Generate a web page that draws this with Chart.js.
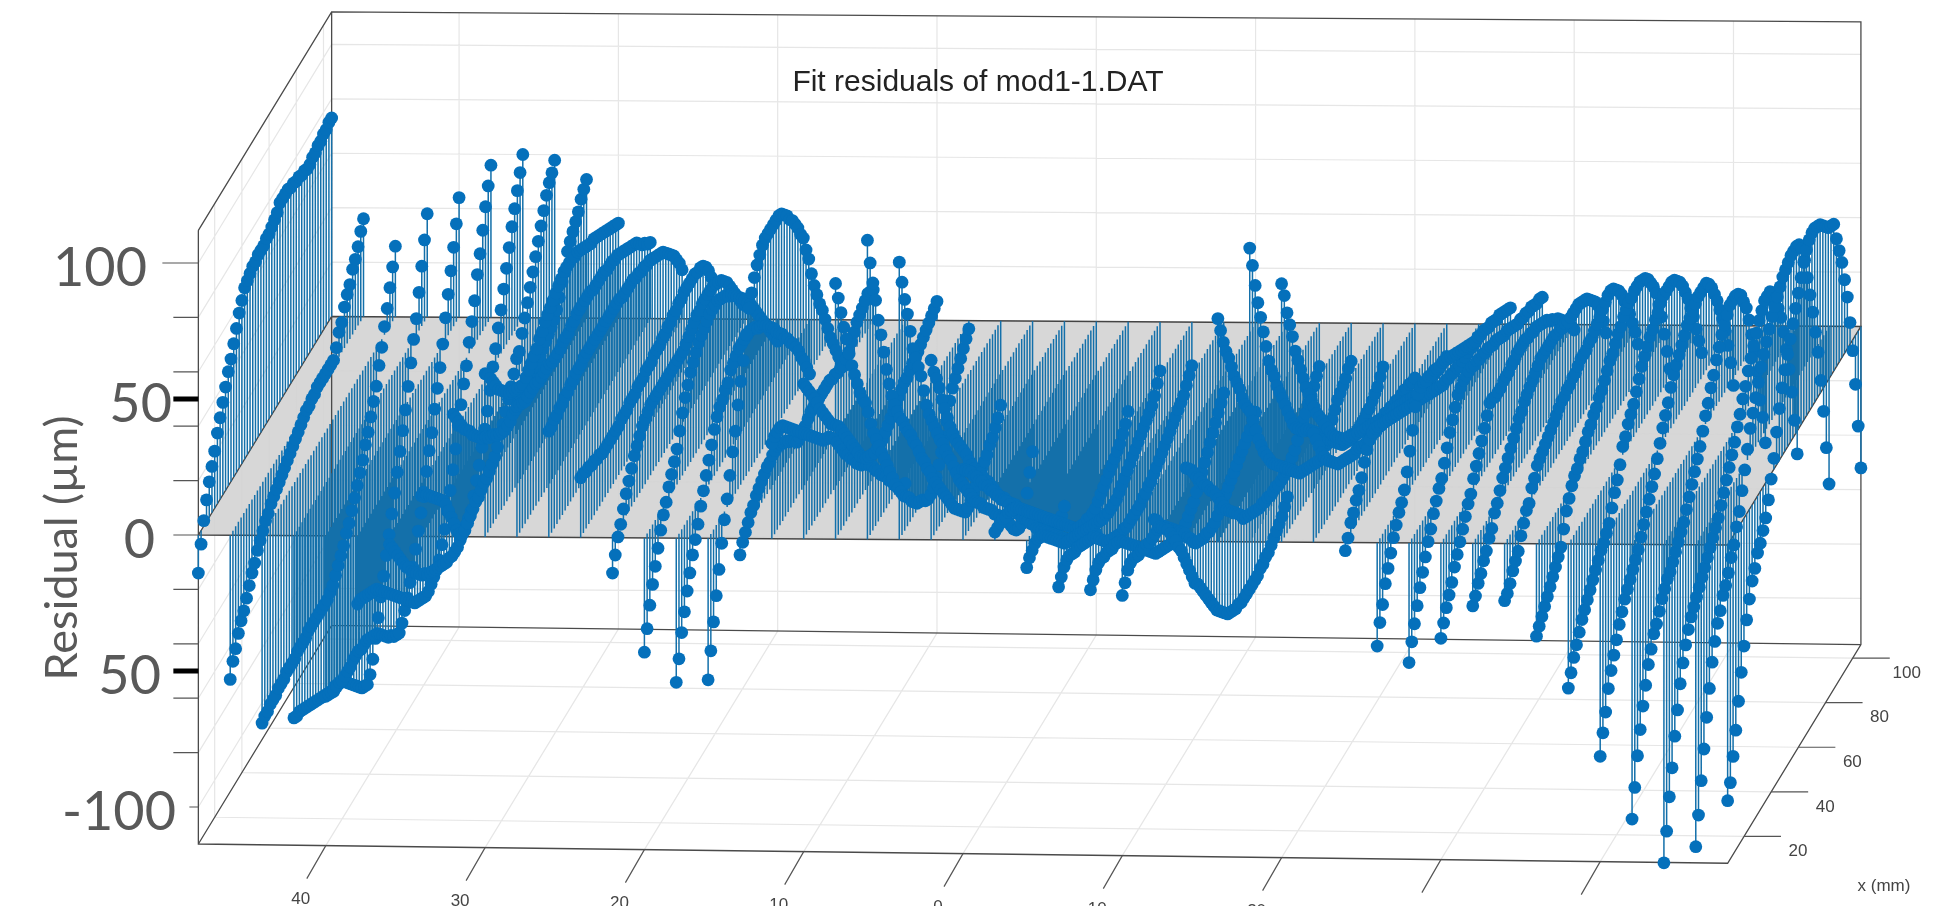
<!DOCTYPE html>
<html lang="en">
<head>
  <meta charset="UTF-8" />
  <title>Fit residuals of mod1-1.DAT</title>
  <script src="https://cdn.jsdelivr.net/npm/chart.js"></script>
  <style>
    body { margin: 0; background: #fff; overflow: hidden; }
    canvas { display: block; }
  </style>
</head>
<body>
  <canvas id="chart" width="1941" height="906"></canvas>
  <script>
    // scan lines: lateral position (mm) of each line, along-line positions (mm)
    const strandX = [48,46,44,42,40,38,36,34,32,30,28,26,24,22,20,18,16,14,12,10,8,6,4,2,0,-2,-4,-6,-8,-10,-12,-14,-16,-18,-20,-22,-24,-26,-28,-30,-32,-34,-36,-38,-40,-42,-44,-46,-48];
    const strandY = [8,10,12,14,16,18,20,22,24,26,28,30,32,34,36,38,40,42,44,46,48,50,52,54,56,58,60,62,64,66,68,70,72,74,76,78,80,82,84,86,88,90,92,94,96,98,100,102,104,106];

    // residuals in um, one list per scan line
    const s48 = [-14,-5,2,8,13, 17,21,26,30,34, 38,42,45,49,53, 57,60,63,64,65, 66,66,67,67,67, 68,68,69,70,71, 73,73,73,73,72, 72,71,71,70,70, 69,69,70,70,71, 71,72,72,73,73];
    const s46 = [-53,-48,-45,-41,-38, -36,-33,-30,-27,-25, -22,-20,-18,-16,-15, -13,-12,-11,-10,-9, -8,-7,-6,-5,-4, -3,-2,-1,0,0, 1,1,2,2,2, 2,2,2,2,5, 9,11,15,18,20, 24,26,29,33,36];
    const s44 = [-69,-68,-68,-67,-67, -67,-66,-66,-66,-65, -65,-65,-65,-64,-64, -64,-64,-63,-63,-63, -63,-63,-63,-63,-63, -62,-61,-59,-57,-55, -53,-50,-48,-45,-42, -39,-36,-33,-29,-26, -22,-18,-14,-8,-3, 3,8,14,20,26];
    const s42 = [-67,-68,-68,-69,-70, -71,-72,-73,-74,-75, -76,-77,-78,-79,-80, -80,-81,-82,-83,-85, -87,-89,-91,-93,-95, -97,-98,-99,-97,-93, -87,-81,-75,-69,-63, -57,-51,-45,-39,-33, -27,-21,-14,-7,0, 6,14,22,30,38];
    const s40 = [-59,-60,-61,-62,-62, -62,-63,-63,-63,-63, -62,-62,-62,-63,-63, -63,-64,-65,-66,-67, -69,-71,-73,-75,-76, -78,-79,-80,-78,-75, -72,-68,-64,-59,-54, -49,-43,-37,-31,-26, -19,-13,-7,0,8, 15,22,29,36,44];
    const s38 = [-25,-25,-26,-27,-28, -29,-30,-31,-33,-35, -37,-39,-41,-43,-45, -47,-49,-51,-53,-55, -57,-59,-60,-61,-62, -63,-63,-62,-61,-60, -58,-54,-50,-45,-39, -33,-27,-20,-14,-8, -3,4,10,16,24, 30,37,44,50,56];
    const s36 = [-3,-6,-9,-12,-15, -18,-21,-23,-26,-28, -30,-32,-34,-35,-37, -38,-39,-40,-41,-42, -43,-44,-44,-45,-45, -45,-44,-43,-42,-41, -40,-36,-32,-28,-23, -18,-13,-7,0,5, 11,16,22,28,34, 40,45,50,55,60];
    const s34 = [15,13,12,10,8, 6,4,2,0,-3, -7,-11,-15,-19,-22, -24,-24,-23,-22,-21, -20,-20,-19,-18,-18, -17,-16,-15,-13,-10, -8,-5,-2,1,4, 8,9,14,18,22, 26,30,34,38,42, 46,50,53,55,58];
    const s32 = [45,42,39,36,33, 31,29,26,24,22, 20,18,17,15,14, 13,11,10,9,8, 8,8,9,9,10, 10,11,11,12,12, 13,13,14,15,16, 17,18,19,21,24, 28,30,36,38,40, 42,44,47,49,51];
    const s30 = [60,58,55,52,49, 46,44,42,40,38, 37,36,35,34,33, 34,35,36,37,38, 40,41,43,44,45, 46,47,48,49,50, 50,50,50,49,49, 48,47,46,45,44, 44,43,42,41,40, 39,38,37,36,35];
    const s28 = [48,47,46,45,45, 45,45,45,44,44, 44,44,44,43,43, 43,43,44,44,44, 45,45,46,46,46, 46,46,46,45,45, 45,45,45,44,44, 44,43,43,42,41, 40,39,38,37,36, 34,32,31,29,28];
    const s26 = [39,39,40,40,41, 41,42,42,43,43, 44,44,44,45,45, 45,45,45,45,45, 45,45,45,45,45, 45,45,44,44,44, 44,44,43,43,42, 42,41,41,40,39, 38,37,36,34,32, 30,28,25,22,18];
    const s24 = [22,22,21,21,20, 20,19,19,18,18, 18,18,18,18,18, 19,19,19,20,20, 20,21,21,21,22, 22,22,23,23,23, 24,24,25,25,26, 26,27,27,28,28, 28,28,28,27,27, 26,24,21,17,13];
    const s22 = [-13,-8,-3,0,4, 8,11,14,17,19, 21,23,24,25,26, 26,26,26,26,26, 26,26,26,26,26, 26,26,27,28,29, 30,31,31,32,32, 32,32,32,31,30, 29,27,25,22,19, 16,13,10,7,5];
    const s20 = [-42,-35,-28,-22,-17, -12,-7,-3,0,4, 7,10,13,18,23, 27,30,33,35,37, 39,40,41,42,43, 43,43,43,42,41, 40,38,37,35,33, 31,29,27,24,22, 19,16,13,10,7, 4,1,-2,-5,-8];
    const s18 = [-53,-46,-38,-32,-26, -21,-16,-12,-8,-3, 1,5,9,13,17, 20,22,23,25,26, 29,30,31,32,32, 32,32,32,31,30, 28,27,26,24,22, 20,18,15,13,11, 8,6,3,1,-2, -5,-9,-12,-16,-20];
    const s16 = [-52,-43,-34,-26,-18, -10,-3,3,10,17, 23,31,38,44,52, 60,64,68,71,73, 75,76,76,76,76, 76,76,75,73,71, 68,66,63,60,56, 53,47,42,35,29, 24,19,15,10,5, 0,-4,-8,-12,-17];
    const s14 = [-6,-3,-1,1,3, 4,6,7,8,9, 10,10,11,11,11, 10,9,8,6,5, 3,1,1,1,2, 3,4,4,4,4, 4,4,4,4,3, 3,2,2,1,2, 3,5,7,9,10, 11,12,13,12,11];
    const s12 = [35,36,36,36,35, 33,31,29,27,25, 23,21,19,17,15, 13,11,9,7,5, 4,3,1,-1,-4, -7,-10,-13,-15,-18, -20,-23,-25,-27,-28, -30,-32,-34,-37,-39, -42,-44,-46,-49,-51, -54,-56,-58,-59,-60];
    const s10 = [57,54,51,48,45, 42,38,35,32,29, 26,24,22,20,17, 14,11,8,5,2, -1,-4,-6,-8,-9, -10,-11,-11,-11,-11, -10,-9,-8,-7,-6, -5,-4,-3,-3,-2, -1,0,0,1,2, 3,4,5,6,7];
    const s8 = [94,87,80,73,67, 60,54,49,44,39, 35,32,27,21,16, 12,8,4,0,-4, -8,-12,-16,-19,-22, -25,-27,-29,-32,-34, -36,-37,-38,-40,-41, -41,-40,-38,-35,-32, -28,-24,-18,-15,-13, -11,-9,-7,-5,-3];
    const s6 = [110,100,91,83,74, 67,59,51,44,38, 33,29,25,22,18, 15,12,8,5,1, -3,-6,-10,-13,-17, -20,-23,-26,-29,-32, -35,-38,-41,-43,-45, -47,-49,-49,-48,-47, -46,-45,-43,-42,-41, -39,-38,-36,-34,-31];
    const s4 = [102,93,85,78,70, 62,57,52,47,40, 33,28,24,20,16, 12,9,5,1,-2, -6,-10,-14,-17,-20, -23,-26,-29,-32,-34, -36,-39,-41,-43,-45, -48,-50,-52,-54,-56, -59,-62,-65,-67,-68, -68,-65,-60,-54,-48];
    const s2 = [66,60,56,51,45, 40,35,30,26,22, 19,16,13,10,6, 3,0,-3,-5,-8, -11,-13,-16,-19,-22, -25,-27,-29,-32,-34, -36,-38,-41,-43,-46, -48,-51,-53,-55,-57, -60,-62,-64,-66,-68, -70,-71,-72,-70,-68];
    const s0 = [26,24,22,20,17, 15,12,10,7,5, 2,0,-3,-5,-8, -10,-12,-15,-18,-20, -23,-25,-28,-30,-32, -35,-37,-40,-42,-44, -46,-48,-50,-52,-54, -56,-58,-60,-62,-64, -66,-68,-70,-72,-73, -74,-75,-76,-77,-78];
    const sm2 = [3,3,3,3,2, 2,1,0,-1,-3, -5,-7,-9,-11,-13, -15,-17,-19,-21,-23, -25,-27,-29,-31,-33, -35,-37,-39,-41,-43, -45,-46,-47,-48,-48, -49,-49,-49,-48,-47, -46,-45,-44,-43,-42, -41,-40,-38,-36,-33];
    const sm4 = [-10,-8,-7,-6,-6, -7,-8,-10,-12,-14, -16,-18,-20,-22,-24, -25,-26,-27,-28,-29, -30,-31,-32,-33,-34, -35,-36,-37,-38,-38, -39,-39,-39,-39,-38, -37,-36,-35,-34,-33, -32,-31,-30,-29,-28, -27,-26,-24,-21,-18];
    const sm6 = [-17,-15,-13,-12,-12, -13,-14,-14,-15,-16, -17,-18,-19,-20,-22, -24,-26,-28,-30,-31, -32,-33,-34,-35,-35, -36,-36,-36,-36,-36, -36,-35,-35,-34,-34, -33,-32,-31,-30,-29, -28,-27,-26,-25,-24, -23,-22,-20,-18,-16];
    const sm8 = [-18,-16,-14,-13,-13, -14,-14,-15,-16,-16, -17,-18,-20,-22,-24, -26,-28,-30,-32,-34, -36,-38,-40,-42,-44, -45,-46,-47,-48,-49, -50,-51,-52,-52,-52, -51,-50,-49,-48,-46, -44,-42,-40,-38,-36, -34,-32,-30,-28,-26];
    const sm10 = [-20,-17,-14,-13,-13, -14,-15,-15,-16,-16, -17,-17,-17,-17,-18, -19,-21,-23,-25,-27, -29,-31,-33,-35,-38, -40,-43,-45,-46,-47, -48,-48,-49,-49,-49, -48,-47,-46,-45,-44, -43,-42,-41,-40,-39, -38,-37,-36,-34,-33];
    const sm12 = [8,6,2,0,-2, -4,-7,-10,-13,-17, -20,-24,-28,-32,-36, -40,-42,-45,-48,-51, -54,-57,-60,-63,-65, -67,-69,-71,-72,-73, -74,-74,-75,-75,-75, -75,-75,-75,-75,-74, -74,-73,-73,-72,-71, -70,-69,-68,-66,-64];
    const sm14 = [27,25,23,20,17, 15,12,9,7,4, 2,-1,-4,-7,-10, -13,-15,-17,-19,-21, -23,-26,-27,-28,-29, -30,-31,-32,-32,-33, -33,-34,-34,-34,-35, -35,-35,-35,-34,-33, -32,-30,-28,-26,-25, -23,-22,-20,-18,-16];
    const sm16 = [82,76,70,65,61, 56,51,47,43,38, 34,31,28,23,18, 13,9,5,2,-1, -4,-6,-8,-10,-12, -14,-16,-18,-20,-22, -24,-25,-26,-27,-28, -29,-30,-31,-32,-33, -30,-27,-24,-22,-20, -19,-18,-17,-15,-14];
    const sm18 = [108,100,91,83,76, 69,62,55,50,46, 41,37,33,29,25, 21,17,14,12,10, 8,7,5,3,1, -1,-3,-6,-8,-10, -12,-14,-16,-18,-20, -21,-22,-23,-24,-24, -24,-24,-24,-23,-23, -22,-21,-20,-18,-16];
    const sm20 = [95,89,81,75,69, 62,57,52,47,42, 38,34,30,26,23, 20,17,14,11,8, 6,4,2,0,-1, -2,-3,-5,-6,-7, -8,-9,-10,-11,-12, -13,-14,-15,-15,-16, -16,-17,-17,-18,-18, -18,-19,-19,-20,-20];
    const sm22 = [40,36,32,28,25, 22,20,18,16,14, 13,12,11,10,9, 8,8,7,6,5, 5,4,4,3,3, 2,2,1,1,0, 0,-1,-2,-3,-4, -5,-6,-7,-8,-9, -9,-10,-10,-11,-11, -11,-12,-12,-12,-12];
    const sm24 = [-3,0,4,6,9, 11,14,18,21,23, 24,24,23,22,21, 20,19,18,17,16, 15,14,13,12,11, 10,9,8,7,6, 5,4,3,2,1, 0,-1,-1,-2,-2, -3,-3,-4,-4,-4, -4,-4,-5,-5,-5];
    const sm26 = [-38,-31,-26,-20,-16, -12,-8,-5,-2,0, 3,8,14,20,27, 30,31,31,30,30, 29,29,28,27,27, 26,25,24,23,22, 21,20,19,18,17, 16,15,15,14,14, 13,12,12,11,10, 10,9,8,7,6];
    const sm28 = [-44,-38,-33,-28,-23, -19,-15,-11,-8,-4, -1,2,4,8,12, 16,19,22,25,26, 27,27,27,27,26, 26,25,25,24,24, 23,22,22,21,20, 19,19,18,17,16, 15,15,14,14,13, 13,12,11,11,10];
    const sm30 = [-35,-31,-27,-24,-21, -17,-14,-11,-8,-5, -2,0,4,7,10, 13,16,19,22,22, 21,21,21,22,22, 22,23,23,24,24, 24,24,23,23,22, 22,21,20,19,18, 16,15,13,12,10, 8,6,4,1,-2];
    const sm32 = [-23,-21,-18,-16,-13, -11,-8,-6,-2,0, 3,6,8,10,12, 14,16,18,19,21, 22,23,24,25,26, 27,27,27,27,27, 27,26,26,25,25, 24,24,24,24,24, 23,22,21,19,17, 15,12,8,3,-3];
    const sm34 = [-21,-20,-18,-15,-13, -11,-7,-4,-1,0, 4,6,9,10,11, 12,13,14,15,16, 17,18,18,19,19, 20,20,21,22,22, 22,23,23,24,25, 26,27,28,29,29, 28,26,24,21,17, 13,9,4,-1,-7];
    const sm36 = [-34,-32,-30,-28,-26, -24,-22,-20,-18,-16, -11,-6,-3,0,2, 3,5,6,8,10, 11,13,14,16,17, 19,21,23,24,26, 28,29,31,32,33, 33,34,34,34,33, 32,30,27,24,20, 14,8,0,-8,-16];
    const sm38 = [-53,-49,-45,-42,-39, -36,-34,-32,-30,-28, -26,-24,-22,-21,-19, -17,-13,-9,-6,-2, 3,5,8,10,12, 15,18,21,23,25, 27,28,30,31,33, 34,34,34,34,33, 31,29,26,22,18, 13,8,2,-4,-10];
    const sm40 = [-78,-71,-65,-58,-53, -49,-45,-41,-38,-35, -33,-31,-29,-27,-25, -22,-19,-16,-13,-10, -7,-3,1,5,8, 11,15,18,20,22, 24,26,28,29,30, 31,32,32,32,32, 30,27,23,19,14, 9,3,-4,-12,-22];
    const sm42 = [-101,-91,-81,-73,-66, -60,-54,-50,-46,-44, -41,-38,-36,-34,-33, -31,-29,-27,-25,-23, -20,-17,-14,-11,-8, -5,-1,3,6,10, 13,17,20,23,25, 27,29,29,29,28, 26,22,18,12,5, -3,-12,-24,-32,-43];
    const sm44 = [-117,-107,-96,-87,-77, -69,-61,-55,-50,-46, -43,-41,-39,-37,-35, -33,-31,-29,-27,-25, -23,-20,-17,-14,-11, -8,-5,-1,2,6, 9,13,16,19,22, 25,27,29,29,29, 27,23,18,13,6, -2,-11,-21,-33,-47];
    const sm46 = [-111,-101,-90,-80,-70, -61,-53,-47,-42,-39, -35,-33,-30,-26,-23, -18,-14,-8,-2,4, 10,14,18,22,26, 29,32,35,38,40, 42,44,46,47,48, 49,49,49,48,45, 39,31,23,15,6, -3,-15,-28,-43,-58];
    const sm48 = [-94,-89,-81,-73,-64, -55,-47,-39,-33,-28, -25,-21,-19,-16,-13, -8,-2,4,12,19, 25,30,34,38,42, 46,50,54,58,61, 63,64,64,63,62, 60,58,56,55,54, 47,41,35,27,19, 8,-4,-18,-35,-52];
    const residuals = [s48,s46,s44,s42,s40,s38,s36,s34,s32,s30,s28,s26,s24,s22,s20,s18,s16,s14,s12,s10,s8,s6,s4,s2,s0,sm2,sm4,sm6,sm8,sm10,sm12,sm14,sm16,sm18,sm20,sm22,sm24,sm26,sm28,sm30,sm32,sm34,sm36,sm38,sm40,sm42,sm44,sm46,sm48];

    // axis ticks
    const xTicks = [40,30,20,10,0,-10,-20,-30,-40];
    const xTickLabels = ['40','30','20','10','0','10','20','',''];
    const yTicks = [20,40,60,80,100];
    const zTicks = [100,80,60,40,20,0,-20,-40,-60,-80,-100];
    const zLabels = ['100','50','0','50','-100'];
    const zLabelAt = [100,50,0,-50,-100];

    // box limits
    const xMin = -48, xMax = 48, yMin = 8, yMax = 106, zTop = 112;

    // 3D view -> picture axes
    const viewX = (x, y) => 963 - 15.93 * x + 1.36 * (y - 8);
    const viewY = (x, y, z) => 540 - 0.104 * x - 2.23 * (y - 8) - 2.72 * z;
    const pt = (x, y, z) => ({ x: viewX(x, y), y: viewY(x, y, z) });
    const floorZ = x => -115.3 + 0.0354 * x;
    const floorPt = (x, y) => pt(x, y, floorZ(x));

    const gap = { x: NaN, y: NaN };
    const lineSet = (data, color, width) => ({ data, borderColor: color, borderWidth: width, pointRadius: 0, tension: 0, fill: false, spanGaps: false });

    // stems and markers
    const stems = [], dots = [];
    strandX.forEach((x, i) => {
      residuals[i].forEach((z, j) => {
        const y = strandY[j];
        stems.push(pt(x, y, 0), pt(x, y, z), gap);
        dots.push(pt(x, y, z));
      });
    });

    // light grid on floor, back wall and left wall
    const grid = [];
    xTicks.forEach(x => {
      grid.push(floorPt(x, yMin), floorPt(x, yMax), gap);
      grid.push(floorPt(x, yMax), pt(x, yMax, zTop), gap);
    });
    yTicks.forEach(y => {
      grid.push(floorPt(xMax, y), floorPt(xMin, y), gap);
      grid.push(floorPt(xMax, y), pt(xMax, y, zTop), gap);
    });
    zTicks.forEach(z => {
      grid.push(pt(xMax, yMin, z), pt(xMax, yMax, z), pt(xMin, yMax, z), gap);
    });

    // box outline
    const box = [
      pt(xMax, yMin, zTop), floorPt(xMax, yMin), floorPt(xMin, yMin), floorPt(xMin, yMax), pt(xMin, yMax, zTop), pt(xMax, yMax, zTop), pt(xMax, yMin, zTop), gap,
      floorPt(xMax, yMin), floorPt(xMax, yMax), floorPt(xMin, yMax), gap,
      pt(xMax, yMax, zTop), floorPt(xMax, yMax), gap
    ];

    // axis tick marks
    const tickSegs = [];
    xTicks.forEach(x => {
      const p = floorPt(x, yMin);
      tickSegs.push(p, { x: p.x - 19, y: p.y + 33 }, gap);
    });
    yTicks.forEach(y => {
      const p = floorPt(xMin, y);
      tickSegs.push(p, { x: p.x + 37, y: p.y }, gap);
    });
    zTicks.forEach(z => {
      const p = pt(xMax, yMin, z);
      tickSegs.push(p, { x: p.x - (z === 100 ? 36 : z === -100 ? 9 : 25), y: p.y }, gap);
    });
    const heavyTicks = [];
    [50, -50].forEach(z => {
      const p = pt(xMax, yMin, z);
      heavyTicks.push(p, { x: p.x - 25, y: p.y }, gap);
    });

    // the z = 0 plane
    const plane = [pt(xMax, yMin, 0), pt(xMin, yMin, 0), pt(xMin, yMax, 0), pt(xMax, yMax, 0), pt(xMax, yMin, 0)];

    const labelsPlugin = {
      id: 'labels',
      afterDraw(chart) {
        const ctx = chart.ctx;
        const sx = chart.scales.x, sy = chart.scales.y;
        ctx.save();
        ctx.textBaseline = 'middle';

        ctx.fillStyle = '#222';
        ctx.textAlign = 'center';
        ctx.font = '30px "Liberation Sans"';
        ctx.fillText('Fit residuals of mod1-1.DAT', sx.getPixelForValue(978), sy.getPixelForValue(83));

        ctx.fillStyle = '#444';
        ctx.font = '17px "Liberation Sans"';
        xTicks.forEach((x, i) => {
          const p = floorPt(x, yMin);
          ctx.fillText(xTickLabels[i], sx.getPixelForValue(p.x - 25), sy.getPixelForValue(p.y + 54));
        });
        yTicks.forEach(y => {
          const p = floorPt(xMin, y);
          ctx.fillText(String(y), sx.getPixelForValue(p.x + 54), sy.getPixelForValue(p.y + 15));
        });
        ctx.fillText('x (mm)', sx.getPixelForValue(1884), sy.getPixelForValue(886));

        ctx.fillStyle = '#595959';
        ctx.textAlign = 'right';
        ctx.font = '54px Lato';
        const rightEdge = [147, 172, 155, 161, 176];
        zLabels.forEach((t, i) => {
          const p = pt(xMax, yMin, zLabelAt[i]);
          ctx.fillText(t, sx.getPixelForValue(rightEdge[i]), sy.getPixelForValue(p.y + 6));
        });

        ctx.translate(sx.getPixelForValue(62), sy.getPixelForValue(548));
        ctx.rotate(-Math.PI / 2);
        ctx.textAlign = 'center';
        ctx.font = '45px Lato';
        ctx.fillText('Residual (\u00b5m)', 0, 0);
        ctx.restore();
      }
    };

    new Chart(document.getElementById('chart'), {
      type: 'line',
      data: {
        datasets: [
          { data: dots, showLine: false, pointRadius: 6.4, pointBorderWidth: 0, pointBackgroundColor: '#0570bb', pointStyle: 'circle' },
          lineSet(stems, '#1470aa', 1.5),
          lineSet(heavyTicks, '#000', 5),
          lineSet(tickSegs, '#555', 1.2),
          lineSet(box, '#4a4a4a', 1.3),
          { data: plane, borderColor: '#444', borderWidth: 1.4, backgroundColor: 'rgba(212,212,212,0.92)', fill: 'shape', pointRadius: 0, tension: 0 },
          lineSet(grid, '#e6e6e6', 1.2)
        ]
      },
      options: {
        responsive: false,
        animation: false,
        events: [],
        layout: { padding: 0, autoPadding: false },
        plugins: { legend: { display: false }, tooltip: { enabled: false }, title: { display: false } },
        scales: {
          x: { type: 'linear', min: 0, max: 1941, display: false },
          y: { type: 'linear', min: 0, max: 906, reverse: true, display: false }
        }
      },
      plugins: [labelsPlugin]
    });
  </script>
</body>
</html>
